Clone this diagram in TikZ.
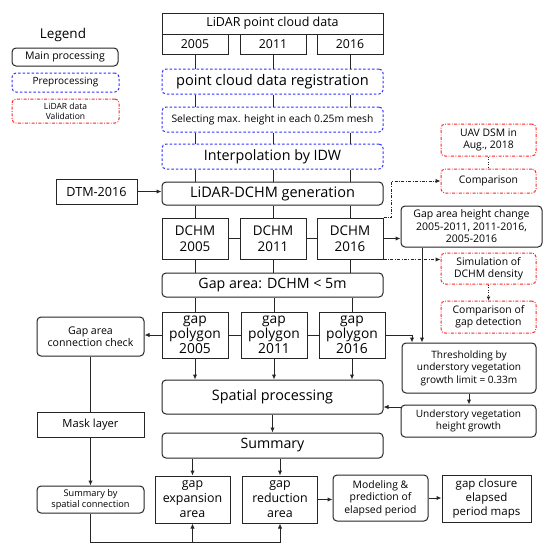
\documentclass[tikz,border=0pt]{standalone}
\usepackage{fontspec}
\setmainfont{Open Sans}
\usetikzlibrary{arrows.meta, positioning, shapes}

\begin{document}
\begin{tikzpicture}[x=1pt, y=-1pt,
  every node/.style={inner sep=1pt, align=center, text=black},
  wh/.style 2 args={minimum width=#1, minimum height=#2},
  rectbox/.style={draw=black!85, line width=1pt},
  roundbox/.style={draw=black!85, line width=1pt, rounded corners=4pt},
  prebox/.style={draw=blue!80!white, line width=1pt, dash pattern=on 2.5pt off 2pt, rounded corners=4pt},
  valbox/.style={draw=red!85!white, line width=1pt, dash pattern=on 3pt off 1.5pt on 0.8pt off 1.5pt, rounded corners=4pt},
  conn/.style={draw=black!85, line width=1pt},
  arr/.style={conn, -{Latex[length=5pt,width=4.5pt]}},
  dotline/.style={draw=black!85, line width=1pt, dash pattern=on 1pt off 1.5pt},
  dashdot/.style={draw=black!85, line width=1pt, dash pattern=on 3pt off 1.5pt on 0.8pt off 1.5pt, -{Latex[length=5pt,width=4.5pt]}}]
\fill[white] (0,0) rectangle (548,550);
\useasboundingbox (0,0) rectangle (548,550);

% Legend
\node[font=\fontsize{13.5}{16}\selectfont] (legend) at (63,35) {Legend};
\node[roundbox, wh={106}{18}, font=\fontsize{10.5}{12.5}\selectfont] (legmain) at (65,57) {Main processing};
\node[prebox, wh={107}{19}, font=\fontsize{10}{12}\selectfont] (legpre) at (65.5,82.5) {Preprocessing};
\node[valbox, wh={107}{24}, font=\fontsize{8.5}{10}\selectfont] (legval) at (65.5,111) {LiDAR data\\Validation};

% Nodes: main column
\node[rectbox, wh={221}{21}, font=\fontsize{12.5}{14}\selectfont] (lidar) at (272.5,23.5) {LiDAR point cloud data};
\node[rectbox, wh={66}{20}, font=\fontsize{12.3}{14}\selectfont] (y2005) at (195,44) {2005};
\node[rectbox, wh={66}{20}, font=\fontsize{12.3}{14}\selectfont] (y2011) at (273,44) {2011};
\node[rectbox, wh={66}{20}, font=\fontsize{12.3}{14}\selectfont] (y2016) at (350,44) {2016};

\node[prebox, wh={221}{25}, font=\fontsize{14.6}{16}\selectfont] (reg) at (272.5,81.5) {point cloud data registration};
\node[prebox, wh={221}{25}, font=\fontsize{10.3}{12}\selectfont] (sel) at (272.5,119.5) {Selecting max. height in each 0.25m mesh};
\node[prebox, wh={221}{25}, font=\fontsize{14.3}{16}\selectfont] (idw) at (272.5,156.5) {Interpolation by IDW};
\node[roundbox, wh={221}{23}, font=\fontsize{14.5}{16}\selectfont] (gen) at (272.5,193.5) {LiDAR-DCHM generation};
\node[rectbox, wh={81}{25}, font=\fontsize{12.6}{14}\selectfont] (dtm) at (96.5,191.5) {DTM-2016};

\node[rectbox, wh={66}{41}, font=\fontsize{13.4}{16}\selectfont] (dchm1) at (195,238.5) {DCHM\\2005};
\node[rectbox, wh={66}{41}, font=\fontsize{13.4}{16}\selectfont] (dchm2) at (273,238.5) {DCHM\\2011};
\node[rectbox, wh={66}{41}, font=\fontsize{13.4}{16}\selectfont] (dchm3) at (350,238.5) {DCHM\\2016};

\node[roundbox, wh={221}{24}, font=\fontsize{14.2}{16}\selectfont] (gap) at (272.5,285) {Gap area: DCHM < 5m};

\node[rectbox, wh={66}{46}, font=\fontsize{13.8}{15}\selectfont] (poly1) at (195,335) {gap\\polygon\\2005};
\node[rectbox, wh={66}{46}, font=\fontsize{13.8}{15}\selectfont] (poly2) at (274,335) {gap\\polygon\\2011};
\node[rectbox, wh={66}{46}, font=\fontsize{13.8}{15}\selectfont] (poly3) at (352,335) {gap\\polygon\\2016};

\node[roundbox, wh={221}{34}, font=\fontsize{14.4}{16}\selectfont] (spat) at (272.5,397) {Spatial processing};
\node[roundbox, wh={221}{25}, font=\fontsize{14.2}{16}\selectfont] (summ) at (272.5,445.5) {Summary};

\node[rectbox, wh={75}{47}, font=\fontsize{12.4}{15}\selectfont] (exp) at (192.5,499.5) {gap\\expansion\\area};
\node[rectbox, wh={75}{47}, font=\fontsize{12.4}{15}\selectfont] (red) at (280,499.5) {gap\\reduction\\area};
\node[roundbox, wh={95}{46}, font=\fontsize{10.4}{12.5}\selectfont] (model) at (380.5,498) {Modeling \&\\prediction of\\elapsed period};
\node[rectbox, wh={89}{47}, font=\fontsize{11.5}{14}\selectfont] (maps) at (486.5,498.5) {gap closure\\elapsed\\period maps};

% Nodes: left column
\node[roundbox, wh={107}{39}, font=\fontsize{10.6}{12.5}\selectfont] (check) at (90.5,336.5) {Gap area\\connection check};
\node[rectbox, wh={107}{25}, font=\fontsize{11.2}{13}\selectfont] (mask) at (90.5,424.5) {Mask layer};
\node[roundbox, wh={107}{27}, font=\fontsize{9.2}{11}\selectfont] (sbs) at (90.5,499.5) {Summary by\\spatial connection};

% Nodes: right column
\node[valbox, wh={95}{32}, font=\fontsize{10.4}{12}\selectfont] (uav) at (488.5,140) {UAV DSM in\\Aug., 2018};
\node[valbox, wh={95}{24}, font=\fontsize{10.4}{12}\selectfont] (comp) at (488.5,181) {Comparison};
\node[roundbox, wh={141}{41}, font=\fontsize{10.5}{12.5}\selectfont] (hc) at (471.5,226.5) {Gap area height change\\2005-2011, 2011-2016,\\2005-2016};
\node[valbox, wh={95}{31}, font=\fontsize{10.4}{12}\selectfont] (sim) at (488.5,268.5) {Simulation of\\DCHM density};
\node[valbox, wh={95}{32}, font=\fontsize{10.4}{12}\selectfont] (cgd) at (488.5,317) {Comparison of\\gap detection};
\node[roundbox, wh={134}{50}, font=\fontsize{10.1}{12.5}\selectfont] (thr) at (469,368) {Thresholding by\\understory vegetation\\growth limit = 0.33m};
\node[roundbox, wh={135}{32}, font=\fontsize{10.1}{12}\selectfont] (und) at (468.5,421) {Understory vegetation\\height growth};

\coordinate (tx1) at (412,0);
\coordinate (tx2) at (422,0);
\coordinate (uy) at (0,407);
\coordinate (by) at (0,542);

% Links between rows
\draw[conn] (y2005.south) -- (y2005.south |- reg.north)
            (y2011.south) -- (y2011.south |- reg.north)
            (y2016.south) -- (y2016.south |- reg.north);
\draw[conn] (y2005.south |- reg.south) -- (y2005.south |- sel.north)
            (y2011.south |- reg.south) -- (y2011.south |- sel.north)
            (y2016.south |- reg.south) -- (y2016.south |- sel.north);
\draw[conn] (y2005.south |- sel.south) -- (y2005.south |- idw.north)
            (y2011.south |- sel.south) -- (y2011.south |- idw.north)
            (y2016.south |- sel.south) -- (y2016.south |- idw.north);
\draw[conn] (y2005.south |- idw.south) -- (y2005.south |- gen.north)
            (y2011.south |- idw.south) -- (y2011.south |- gen.north)
            (y2016.south |- idw.south) -- (y2016.south |- gen.north);
\draw[conn] (dchm1.north |- gen.south) -- (dchm1.north)
            (dchm2.north |- gen.south) -- (dchm2.north)
            (dchm3.north |- gen.south) -- (dchm3.north);
\draw[conn] (dchm1.east) -- (dchm2.west)
            (dchm2.east) -- (dchm3.west);
\draw[conn] (dchm1.south) -- (dchm1.south |- gap.north)
            (dchm2.south) -- (dchm2.south |- gap.north)
            (dchm3.south) -- (dchm3.south |- gap.north);
\draw[conn] (poly1.north |- gap.south) -- (poly1.north)
            (poly2.north |- gap.south) -- (poly2.north)
            (poly3.north |- gap.south) -- (poly3.north);
\draw[conn] (poly1.east) -- (poly2.west)
            (poly2.east) -- (poly3.west);
\draw[conn] (check.south) -- (mask.north);

% Arrows
\draw[arr] (dtm.east) -- (dtm.east -| gen.west);
\draw[arr] (dchm3.east) -- (dchm3.east -| hc.west);
\draw[arr] (poly1.west) -- (poly1.west -| check.east);
\draw[arr] (poly1.south) -- (poly1.south |- spat.north);
\draw[arr] (poly2.south) -- (poly2.south |- spat.north);
\draw[arr] (poly3.south) -- (poly3.south |- spat.north);
\draw[arr] (spat.south) -- (summ.north);
\draw[arr] (exp.north |- summ.south) -- (exp.north);
\draw[arr] (red.north |- summ.south) -- (red.north);
\draw[arr] (red.east) -- (red.east -| model.west);
\draw[arr] (model.east) -- (model.east -| maps.west);
\draw[arr] (mask.south) -- (sbs.north);
\draw[arr] (sbs.south) |- (red.south |- by) -- (red.south);
\draw[arr] (exp.south |- by) -- (exp.south);
\draw[arr] (poly3.east) -| (tx1 |- thr.north);
\draw[arr] (tx2 |- hc.south) -- (tx2 |- thr.north);
\draw[arr] (thr.south) -- (thr.south |- und.north);
\draw[arr] (und.west |- uy) -- (spat.east |- uy);

% Validation links
\draw[dashdot] (dchm3.north east) -- ++(8,0) |- (comp.west);
\draw[dashdot] (dchm3.south east) -- (dchm3.south east -| sim.west);
\draw[dotline] (uav.south) -- (comp.north);
\draw[dotline, -{Latex[length=4pt,width=4pt]}] (sim.south) -- (cgd.north);

\end{tikzpicture}
\end{document}
